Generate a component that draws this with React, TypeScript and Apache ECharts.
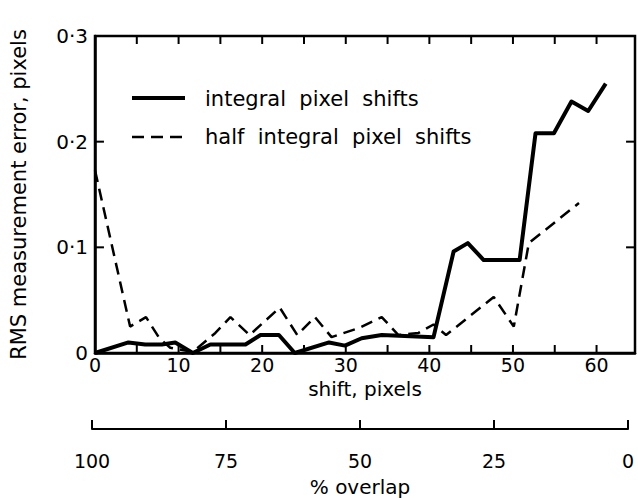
import React, { useEffect, useRef } from "react";
import * as echarts from "echarts";

// integral pixel shifts (solid)
const shiftSolid = [0, 4, 6, 8, 9.6, 11.7, 13.8, 18, 19.8, 22, 23.9, 28, 29.9, 31.9, 34.3, 40.5, 42.9, 44.6, 46.5, 50.8, 52.7, 54.9, 57, 59, 61.1];
const errSolid = [0, 0.01, 0.008, 0.008, 0.01, 0, 0.008, 0.008, 0.017, 0.017, 0, 0.01, 0.007, 0.014, 0.017, 0.015, 0.096, 0.104, 0.088, 0.088, 0.208, 0.208, 0.238, 0.229, 0.255];

// half integral pixel shifts (dashed)
const shiftDashed = [0, 4.2, 6.1, 7.7, 9, 11.7, 14.4, 16.2, 18.5, 22.1, 24.2, 26.3, 28.3, 31.7, 34.3, 36.3, 38.7, 40.5, 42, 47.7, 50.1, 51.9, 57.9];
const errDashed = [0.173, 0.025, 0.034, 0.014, 0.005, 0.001, 0.019, 0.034, 0.017, 0.043, 0.017, 0.034, 0.015, 0.024, 0.034, 0.017, 0.019, 0.027, 0.017, 0.053, 0.025, 0.104, 0.142];

const seriesNames = ["integral  pixel  shifts", "half  integral  pixel  shifts"];
const shiftTicks = [5, 10, 15, 20, 25, 30, 35, 40, 45, 50, 55, 60];
const errTicks = [0.1, 0.2];
const overlapTicks = [100, 75, 50, 25, 0];

const X_MAX = 64.6;
const Y_MAX = 0.3;
const FONT = "DejaVu Sans";

// plot box (pixels) used only to size the inward tick marks
const G_LEFT = 92;
const G_RIGHT = 3;
const G_TOP = 36;
const G_BOTTOM = 145;
const PLOT_W = 638 - G_LEFT - G_RIGHT;
const PLOT_H = 498 - G_TOP - G_BOTTOM;
const TICK_V = (8 * Y_MAX) / PLOT_H; // 8 px in y units
const TICK_H = (9 * X_MAX) / PLOT_W; // 9 px in x units

export default function App() {
  const ref = useRef<HTMLDivElement>(null);
  useEffect(() => {
    if (!ref.current) return;
    const chart = echarts.init(ref.current, null, { renderer: "svg" });
    const solid = shiftSolid.map((x, i) => [x, errSolid[i]]);
    const dashed = shiftDashed.map((x, i) => [x, errDashed[i]]);

    const tickSeries = (data: number[][]) => ({
      type: "line",
      xAxisIndex: 0,
      yAxisIndex: 0,
      data,
      symbol: "none",
      clip: false,
      silent: true,
      z: 3,
      lineStyle: { color: "#000", width: 2 },
    });
    const ticks: any[] = [];
    shiftTicks.forEach((v) => {
      ticks.push(tickSeries([[v, 0], [v, TICK_V]]));
      ticks.push(tickSeries([[v, Y_MAX], [v, Y_MAX - TICK_V]]));
    });
    errTicks.forEach((v) => {
      ticks.push(tickSeries([[0, v], [TICK_H, v]]));
      ticks.push(tickSeries([[X_MAX, v], [X_MAX - TICK_H, v]]));
    });

    chart.setOption({
      animation: false,
      grid: [
        { left: G_LEFT, right: G_RIGHT, top: G_TOP, bottom: G_BOTTOM, show: true, borderColor: "#000", borderWidth: 2.5, backgroundColor: "transparent" },
        { left: 92, right: 10, top: 422, height: 9 },
      ],
      xAxis: [
        {
          type: "value",
          gridIndex: 0,
          min: 0,
          max: X_MAX,
          interval: 5,
          axisLine: { show: true, onZero: false, lineStyle: { color: "#000", width: 2.5 } },
          axisTick: { show: false },
          splitLine: { show: false },
          axisLabel: {
            margin: 2,
            color: "#000",
            fontFamily: FONT,
            fontSize: 19,
            formatter: (v: number) => (Math.abs(v % 10) < 1e-6 ? String(v) : ""),
          },
          name: "shift, pixels",
          nameLocation: "middle",
          nameGap: 22,
          nameTextStyle: { color: "#000", fontFamily: FONT, fontSize: 20 },
        },
        {
          type: "value",
          gridIndex: 1,
          min: 0,
          max: 100,
          interval: 25,
          inverse: true,
          axisLine: { show: true, onZero: false, lineStyle: { color: "#000", width: 2 } },
          axisTick: { show: true, inside: true, length: 9, lineStyle: { color: "#000", width: 2 } },
          splitLine: { show: false },
          axisLabel: {
            margin: 22,
            color: "#000",
            fontFamily: FONT,
            fontSize: 19,
            formatter: (v: number) => (overlapTicks.includes(v) ? String(v) : ""),
          },
          name: "% overlap",
          nameLocation: "middle",
          nameGap: 48,
          nameTextStyle: { color: "#000", fontFamily: FONT, fontSize: 20 },
        },
      ],
      yAxis: [
        {
          type: "value",
          gridIndex: 0,
          min: 0,
          max: Y_MAX,
          interval: 0.1,
          axisLine: { show: true, onZero: false, lineStyle: { color: "#000", width: 2.5 } },
          axisTick: { show: false },
          splitLine: { show: false },
          axisLabel: {
            margin: 7,
            color: "#000",
            fontFamily: FONT,
            fontSize: 20,
            formatter: (v: number) => (v === 0 ? "0" : v.toFixed(1).replace(".", "·")),
          },
          name: "RMS measurement error, pixels",
          nameLocation: "middle",
          nameGap: 66,
          nameTextStyle: { color: "#000", fontFamily: FONT, fontSize: 21 },
        },
        { type: "value", gridIndex: 1, show: false, min: 0, max: 1 },
      ],
      graphic: [
        { type: "line", shape: { x1: 132, y1: 98, x2: 185, y2: 98 }, style: { stroke: "#000", lineWidth: 4 } },
        {
          type: "text",
          x: 205,
          y: 99,
          style: { text: seriesNames[0], fill: "#000", font: `21px "${FONT}"`, verticalAlign: "middle" },
        },
        {
          type: "line",
          shape: { x1: 132, y1: 137, x2: 185, y2: 137 },
          style: { stroke: "#000", lineWidth: 2.5, lineDash: [12, 7] },
        },
        {
          type: "text",
          x: 205,
          y: 137,
          style: { text: seriesNames[1], fill: "#000", font: `21px "${FONT}"`, verticalAlign: "middle" },
        },
      ],
      series: [
        ...ticks,
        {
          name: seriesNames[0],
          type: "line",
          xAxisIndex: 0,
          yAxisIndex: 0,
          data: solid,
          symbol: "none",
          clip: false,
          lineStyle: { color: "#000", width: 4, join: "round" },
        },
        {
          name: seriesNames[1],
          type: "line",
          xAxisIndex: 0,
          yAxisIndex: 0,
          data: dashed,
          symbol: "none",
          clip: false,
          lineStyle: { color: "#000", width: 2.5, type: [12, 7] },
        },
      ],
    });
    return () => chart.dispose();
  }, []);
  return <div ref={ref} style={{ width: 638, height: 498, position: "absolute", left: 0, top: 0 }} />;
}
